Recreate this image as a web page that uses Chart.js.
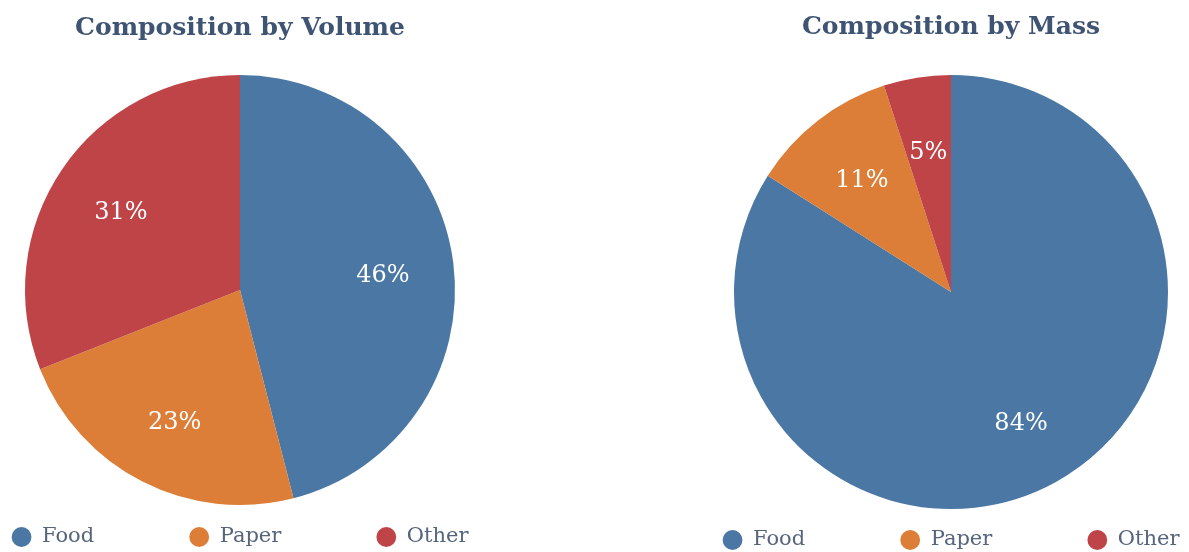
<!DOCTYPE html>
<html>
<head>
<meta charset="utf-8">
<script src="https://cdn.jsdelivr.net/npm/chart.js@4.4.0/dist/chart.umd.min.js"></script>
<style>
  html, body { margin: 0; padding: 0; background: #ffffff; }
  body { width: 1189px; height: 552px; position: relative; overflow: hidden; }
  .box { position: absolute; top: 0; width: 660px; height: 552px; }
  #leftBox { left: -90px; }
  #rightBox { left: 621px; }
</style>
</head>
<body>
<div class="box" id="leftBox"><canvas id="volume"></canvas></div>
<div class="box" id="rightBox"><canvas id="mass"></canvas></div>
<script>
const categories = ['Food', 'Paper', 'Other'];
const volumeValues = [46, 23, 31];
const massValues = [84, 11, 5];
const chartTitles = ['Composition by Volume', 'Composition by Mass'];
const sliceColors = ['#4b77a4', '#dc7e37', '#bf4448'];

const SERIF = '"DejaVu Serif", "Liberation Serif", serif';

const sliceLabels = {
  id: 'sliceLabels',
  afterDatasetsDraw(chart) {
    const ctx = chart.ctx;
    const meta = chart.getDatasetMeta(0);
    const data = chart.data.datasets[0].data;
    ctx.save();
    ctx.fillStyle = '#ffffff';
    ctx.font = '24px ' + SERIF;
    ctx.textAlign = 'center';
    ctx.textBaseline = 'middle';
    meta.data.forEach((arc, i) => {
      const p = arc.getProps(['x', 'y', 'startAngle', 'endAngle', 'outerRadius'], true);
      const mid = (p.startAngle + p.endAngle) / 2;
      const r = p.outerRadius * 0.67;
      ctx.fillText(data[i] + '%', p.x + Math.cos(mid) * r, p.y + Math.sin(mid) * r + 4);
    });
    ctx.restore();
  }
};

function makePie(id, title, values, radius, titlePad, bottomPad) {
  return new Chart(document.getElementById(id), {
    type: 'pie',
    data: {
      labels: categories,
      datasets: [{
        data: values,
        backgroundColor: sliceColors,
        borderWidth: 0
      }]
    },
    options: {
      responsive: true,
      maintainAspectRatio: false,
      animation: false,
      events: [],
      radius: radius,
      layout: { padding: { top: 0, left: 0, right: 0, bottom: bottomPad } },
      plugins: {
        title: {
          display: true,
          text: title,
          color: '#3e5472',
          font: { family: SERIF, size: 25, weight: 'bold', lineHeight: 1.2 },
          padding: titlePad
        },
        legend: {
          position: 'bottom',
          labels: {
            usePointStyle: true,
            pointStyle: 'circle',
            boxWidth: 20,
            boxHeight: 14,
            padding: 95,
            color: '#56657c',
            font: { family: SERIF, size: 21 }
          }
        },
        tooltip: { enabled: false }
      }
    },
    plugins: [sliceLabels]
  });
}

makePie('volume', chartTitles[0], volumeValues, 215, { top: 13, bottom: 105.5 }, -5.5);
makePie('mass', chartTitles[1], massValues, 217, { top: 12, bottom: 107.5 }, -8.5);
</script>
</body>
</html>
